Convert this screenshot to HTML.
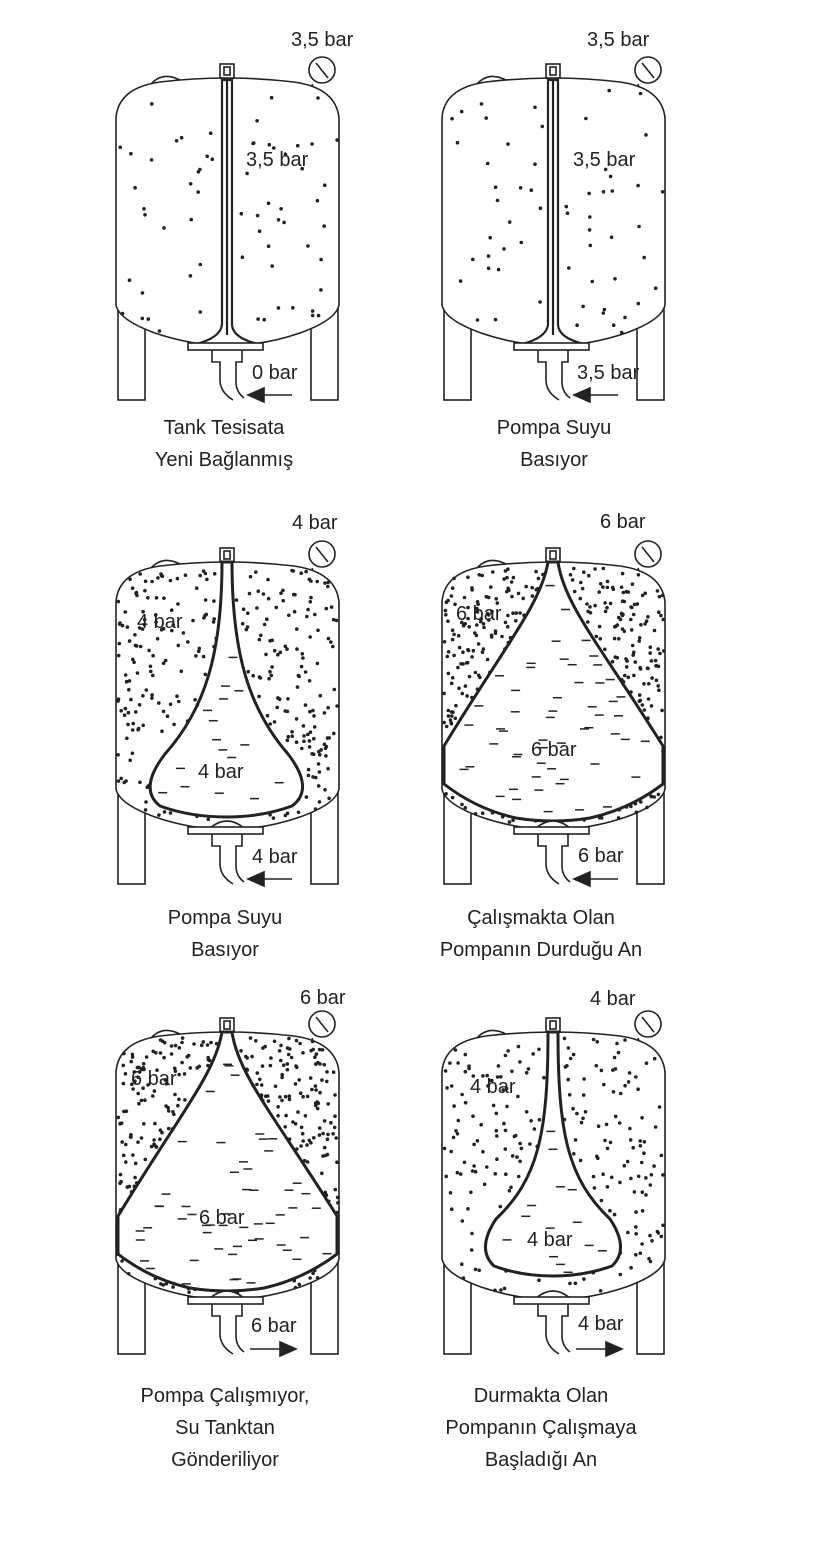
<!DOCTYPE html>
<html><head><meta charset="utf-8">
<style>
html,body{margin:0;padding:0;background:#fff;}
svg{display:block;}
text{font-family:"Liberation Sans",Arial,sans-serif;font-size:20px;fill:#222;}
</style></head>
<body>
<svg id="s" width="825" height="1551" viewBox="0 0 825 1551" xmlns="http://www.w3.org/2000/svg">
<g id="g"></g>
<g id="labels">
<text x="291" y="46">3,5 bar</text>
<text x="246" y="166">3,5 bar</text>
<text x="252" y="379">0 bar</text>
<text x="224" y="434" text-anchor="middle">Tank Tesisata</text>
<text x="224" y="466" text-anchor="middle">Yeni Bağlanmış</text>

<text x="587" y="46">3,5 bar</text>
<text x="573" y="166">3,5 bar</text>
<text x="577" y="379">3,5 bar</text>
<text x="554" y="434" text-anchor="middle">Pompa Suyu</text>
<text x="554" y="466" text-anchor="middle">Basıyor</text>

<text x="292" y="529">4 bar</text>
<text x="137" y="628">4 bar</text>
<text x="198" y="778">4 bar</text>
<text x="252" y="863">4 bar</text>
<text x="225" y="924" text-anchor="middle">Pompa Suyu</text>
<text x="225" y="956" text-anchor="middle">Basıyor</text>

<text x="600" y="528">6 bar</text>
<text x="456" y="620">6 bar</text>
<text x="531" y="756">6 bar</text>
<text x="578" y="862">6 bar</text>
<text x="541" y="924" text-anchor="middle">Çalışmakta Olan</text>
<text x="541" y="956" text-anchor="middle">Pompanın Durduğu An</text>

<text x="300" y="1004">6 bar</text>
<text x="131" y="1085">6 bar</text>
<text x="199" y="1224">6 bar</text>
<text x="251" y="1332">6 bar</text>
<text x="225" y="1402" text-anchor="middle">Pompa Çalışmıyor,</text>
<text x="225" y="1434" text-anchor="middle">Su Tanktan</text>
<text x="225" y="1466" text-anchor="middle">Gönderiliyor</text>

<text x="590" y="1005">4 bar</text>
<text x="470" y="1093">4 bar</text>
<text x="527" y="1246">4 bar</text>
<text x="578" y="1330">4 bar</text>
<text x="541" y="1402" text-anchor="middle">Durmakta Olan</text>
<text x="541" y="1434" text-anchor="middle">Pompanın Çalışmaya</text>
<text x="541" y="1466" text-anchor="middle">Başladığı An</text>
</g>
</svg>
<script>
var NS="http://www.w3.org/2000/svg";
var G=document.getElementById('g');
function el(t,a,p){var e=document.createElementNS(NS,t);for(var k in a)e.setAttribute(k,a[k]);(p||G).appendChild(e);return e;}
var seed=7;function rnd(){seed=(seed*16807)%2147483647;return seed/2147483647;}
var BODY="M116,118 Q118,88 160,82 Q227,74 294,82 Q336,88 339,118 L339,305 Q336,320 300,333 Q265,345 227,346 Q190,345 155,333 Q119,320 116,305 Z";
var BL={
 tube:"M222,80 L222,325 Q220,338 196,344 L258,344 Q233,338 232,325 L232,80 Z",
 b4:"M222,78 C222,170 205,225 165,270 Q138,305 160,322 Q190,333 227,333 Q262,333 292,322 Q315,305 288,270 C249,225 232,170 232,78 Z",
 b6:"M222,78 C215,120 180,160 118,262 L118,300 Q150,325 190,334 Q227,340 264,334 Q304,325 337,300 L337,262 C273,160 238,120 232,78 Z",
 b4b:"M222,78 C222,180 212,225 170,265 Q150,295 168,312 Q195,322 227,322 Q258,322 286,312 Q304,295 284,265 C242,225 232,180 232,78 Z"
};
function tank(dx,dy,type,ndots,ndash,flow){
 var g=el('g',{transform:'translate('+dx+','+dy+')',fill:'none',stroke:'#222','stroke-width':'1.6'});
 el('rect',{x:118,y:300,width:27,height:100,fill:'#fff'},g);
 el('rect',{x:311,y:300,width:27,height:100,fill:'#fff'},g);
 el('path',{d:"M148,88 Q160,70 180,80"},g);
 el('line',{x1:316,y1:96,x2:312,y2:84},g);
 el('circle',{cx:322,cy:70,r:13,fill:'#fff'},g);
 el('line',{x1:316,y1:63,x2:328,y2:78},g);
 var body=el('path',{d:BODY,fill:'#fff'},g);
 el('rect',{x:220,y:64,width:14,height:14,fill:'#fff'},g);
 el('rect',{x:224,y:67,width:6,height:8},g);
 var bl=el('path',{d:BL[type],fill:'#fff','stroke-width':type=='tube'?2.2:3},g);
 if(type=='tube'){el('line',{x1:227,y1:80,x2:227,y2:335,'stroke-width':2.2},g);}
 for(var i=0;i<ndots;i++){
  var x=118+rnd()*220,y=84+rnd()*255;
  var p=new DOMPoint(x,y);
  if(!body.isPointInFill(p))continue;
  if(bl.isPointInFill(p))continue;
  if(x>218&&x<236)continue;
  el('circle',{cx:x.toFixed(1),cy:y.toFixed(1),r:1.8,fill:'#222',stroke:'none'},g);
 }
 if(type!='tube'){
  var c=0,tries=0;
  while(c<ndash&&tries<3000){tries++;
   var x2=130+rnd()*195,y2=100+rnd()*230,p2=new DOMPoint(x2,y2),p3=new DOMPoint(x2+12,y2),p4=new DOMPoint(x2-4,y2);
   if(!bl.isPointInFill(p2)||!bl.isPointInFill(p3)||!bl.isPointInFill(p4))continue;
   c++;
   el('line',{x1:x2.toFixed(1),y1:y2.toFixed(1),x2:(x2+9).toFixed(1),y2:y2.toFixed(1),'stroke-width':1.5},g);
  }
 }
 if(type!='tube')el('path',{d:"M210,344 Q227,330 244,344",fill:'#fff'},g);
 el('rect',{x:188,y:343,width:75,height:7,fill:'#fff'},g);
 el('path',{d:"M212,350 L212,362 L220,362 L220,380 Q220,392 233,400"},g);
 el('path',{d:"M242,350 L242,362 L236,362 L236,382 Q236,392 244,398",fill:'none'},g);
 if(flow=='in'){el('line',{x1:292,y1:395,x2:262,y2:395},g);el('path',{d:"M248,395 L264,388 L264,402 Z",fill:'#222'},g);}
 else{el('line',{x1:250,y1:395,x2:282,y2:395},g);el('path',{d:"M296,395 L280,388 L280,402 Z",fill:'#222'},g);}
}
tank(0,0,'tube',70,0,'in');
tank(326,0,'tube',70,0,'in');
tank(0,484,'b4',400,16,'in');
tank(326,484,'b6',750,55,'in');
tank(0,954,'b6',750,55,'out');
tank(326,954,'b4b',300,14,'out');
</script>
</body></html>
